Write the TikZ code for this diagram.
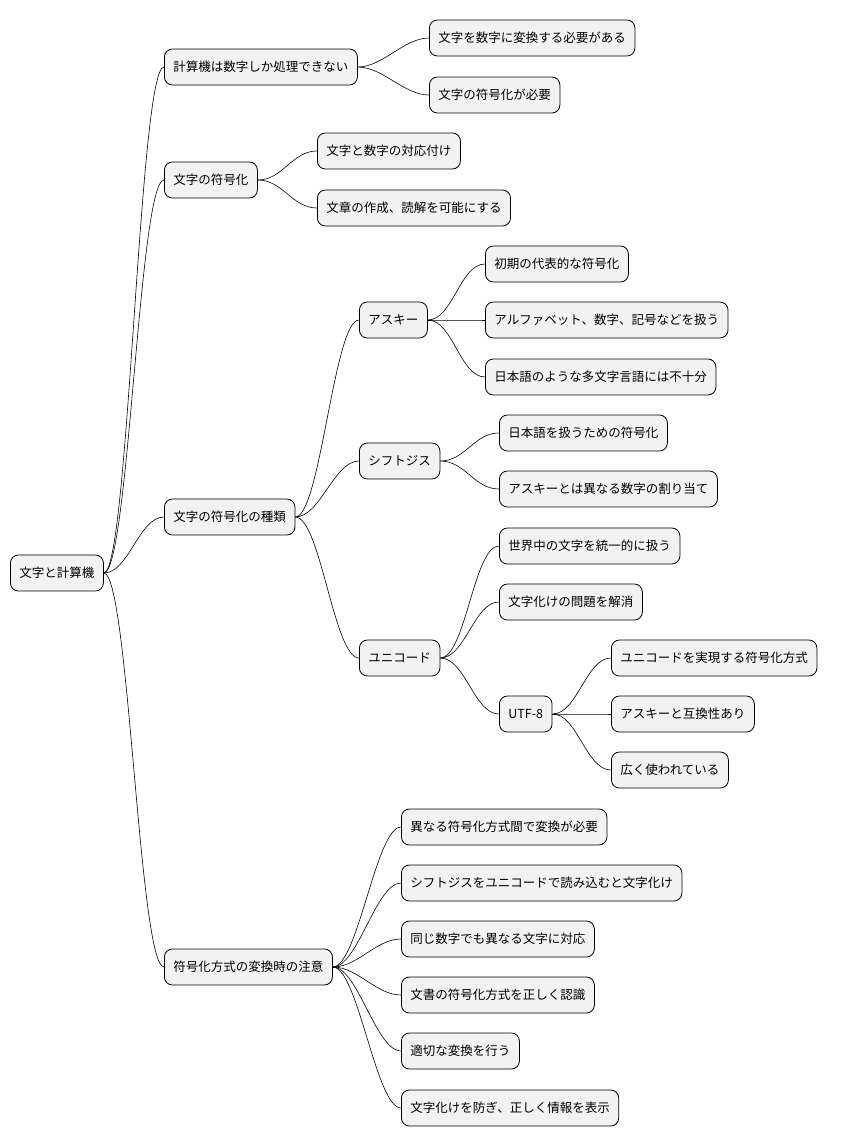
\documentclass[tikz,border=0pt]{standalone}
\usepackage{fontspec}
\setmainfont{Noto Sans CJK JP}
\begin{document}
\begin{tikzpicture}[x=1pt,y=-1pt]
\tikzset{topic/.style = {draw, rounded corners=8pt, fill=black!5, minimum height=36pt, inner xsep=9pt, anchor=west, font=\fontsize{12.5}{15}\selectfont, line width=0.8pt}}
\tikzset{branch/.style = {line width=0.6pt}}
\useasboundingbox (0,0) rectangle (851,1146);
%nodes
\node[topic] (root) at (10,573) {文字と計算機};
\node[topic] (calc) at (164,67) {計算機は数字しか処理できない};
\node[topic] (calc1) at (429,38) {文字を数字に変換する必要がある};
\node[topic] (calc2) at (429,95) {文字の符号化が必要};
\node[topic] (enc) at (164,180) {文字の符号化};
\node[topic] (enc1) at (317,151) {文字と数字の対応付け};
\node[topic] (enc2) at (317,208) {文章の作成、読解を可能にする};
\node[topic] (kind) at (164,517) {文字の符号化の種類};
\node[topic] (ascii) at (359,320) {アスキー};
\node[topic] (ascii1) at (485,264) {初期の代表的な符号化};
\node[topic] (ascii2) at (485,320) {アルファベット、数字、記号などを扱う};
\node[topic] (ascii3) at (485,377) {日本語のような多文字言語には不十分};
\node[topic] (sjis) at (359,461) {シフトジス};
\node[topic] (sjis1) at (499,433) {日本語を扱うための符号化};
\node[topic] (sjis2) at (499,489) {アスキーとは異なる数字の割り当て};
\node[topic] (uni) at (359,658) {ユニコード};
\node[topic] (uni1) at (499,546) {世界中の文字を統一的に扱う};
\node[topic] (uni2) at (499,602) {文字化けの問題を解消};
\node[topic] (utf) at (499,714) {UTF-8};
\node[topic] (utf1) at (611,658) {ユニコードを実現する符号化方式};
\node[topic] (utf2) at (611,714) {アスキーと互換性あり};
\node[topic] (utf3) at (611,770) {広く使われている};
\node[topic] (conv) at (164,967) {符号化方式の変換時の注意};
\node[topic] (conv1) at (401,827) {異なる符号化方式間で変換が必要};
\node[topic] (conv2) at (401,883) {シフトジスをユニコードで読み込むと文字化け};
\node[topic] (conv3) at (401,939) {同じ数字でも異なる文字に対応};
\node[topic] (conv4) at (401,995) {文書の符号化方式を正しく認識};
\node[topic] (conv5) at (401,1051) {適切な変換を行う};
\node[topic] (conv6) at (401,1108) {文字化けを防ぎ、正しく情報を表示};
%branches
\foreach \a/\b in {root/calc, root/enc, root/kind, root/conv, calc/calc1, calc/calc2, enc/enc1, enc/enc2, kind/ascii, kind/sjis, kind/uni, ascii/ascii1, ascii/ascii2, ascii/ascii3, sjis/sjis1, sjis/sjis2, uni/uni1, uni/uni2, uni/utf, utf/utf1, utf/utf2, utf/utf3, conv/conv1, conv/conv2, conv/conv3, conv/conv4, conv/conv5, conv/conv6}
  \draw[branch] (\a.east) .. controls +(25,0) and +(-25,0) .. (\b.west);
\end{tikzpicture}
\end{document}
